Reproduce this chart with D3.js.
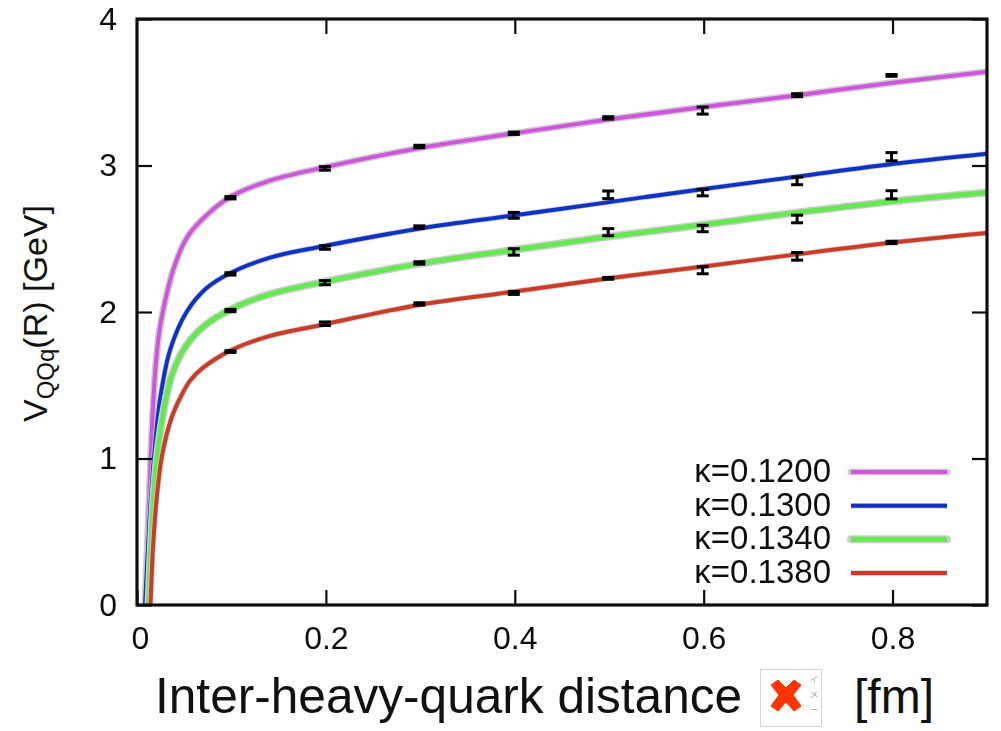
<!DOCTYPE html>
<html>
<head>
<meta charset="utf-8">
<script src="https://cdn.jsdelivr.net/npm/d3@7"></script>
<style>
  html, body { margin: 0; padding: 0; background: #fff; }
  text { font-family: "Liberation Sans", Arial, sans-serif; fill: #111; }
</style>
</head>
<body>
<div id="chart"></div>
<script>
// values
const kappaLabels = ["κ=0.1200", "κ=0.1300", "κ=0.1340", "κ=0.1380"];
const xTicks = [0, 0.2, 0.4, 0.6, 0.8];
const yTicks = [0, 1, 2, 3, 4];

// fitted curves, R [fm] and V [GeV]
const curveR1200 = [0.0085, 0.0115, 0.0148, 0.017, 0.02, 0.025, 0.04, 0.054, 0.077, 0.1, 0.14, 0.2, 0.3, 0.4, 0.5, 0.6, 0.7, 0.8, 0.9];
const curveV1200 = [0, 0.5, 1.05, 1.36, 1.65, 1.92, 2.32, 2.52, 2.68, 2.79, 2.895, 2.99, 3.12, 3.22, 3.315, 3.40, 3.48, 3.565, 3.64];
const curveR1300 = [0.0085, 0.012, 0.0148, 0.0183, 0.0243, 0.035, 0.0525, 0.074, 0.1, 0.14, 0.194, 0.3, 0.4, 0.5, 0.6, 0.7, 0.8, 0.9];
const curveV1300 = [0, 0.44, 0.74, 1.03, 1.40, 1.74, 2.0, 2.165, 2.27, 2.37, 2.445, 2.57, 2.66, 2.75, 2.84, 2.925, 3.01, 3.08];
const curveR1340 = [0.0122, 0.0155, 0.018, 0.0225, 0.031, 0.038, 0.051, 0.0685, 0.1, 0.14, 0.194, 0.3, 0.4, 0.5, 0.6, 0.7, 0.8, 0.9];
const curveV1340 = [0, 0.5, 0.78, 1.08, 1.42, 1.59, 1.76, 1.89, 2.02, 2.12, 2.20, 2.33, 2.425, 2.515, 2.595, 2.68, 2.755, 2.815];
const curveR1380 = [0.0143, 0.0172, 0.021, 0.0265, 0.0367, 0.047, 0.056, 0.07, 0.1, 0.14, 0.194, 0.3, 0.4, 0.5, 0.6, 0.7, 0.8, 0.9];
const curveV1380 = [0, 0.42, 0.74, 1.02, 1.28, 1.43, 1.53, 1.62, 1.74, 1.835, 1.91, 2.05, 2.14, 2.23, 2.31, 2.395, 2.475, 2.54];

// lattice points with error bars
const pointR = [0.1, 0.2, 0.3, 0.4, 0.5, 0.6, 0.7, 0.8];
const pointV1200 = [2.78, 2.98, 3.13, 3.22, 3.325, 3.375, 3.48, 3.615];
const pointE1200 = [0.008, 0.012, 0.008, 0.008, 0.008, 0.024, 0.01, 0.006];
const pointV1300 = [2.26, 2.44, 2.58, 2.66, 2.80, 2.815, 2.895, 3.06];
const pointE1300 = [0.008, 0.012, 0.008, 0.02, 0.026, 0.022, 0.026, 0.028];
const pointV1340 = [2.01, 2.20, 2.335, 2.41, 2.545, 2.57, 2.635, 2.80];
const pointE1340 = [0.008, 0.014, 0.008, 0.022, 0.024, 0.022, 0.026, 0.028];
const pointV1380 = [1.73, 1.92, 2.055, 2.13, 2.23, 2.285, 2.38, 2.475];
const pointE1380 = [0.006, 0.012, 0.008, 0.01, 0.006, 0.024, 0.026, 0.008];

const curveRs = [curveR1200, curveR1300, curveR1340, curveR1380];
const curveVs = [curveV1200, curveV1300, curveV1340, curveV1380];
const pointVs = [pointV1200, pointV1300, pointV1340, pointV1380];
const pointEs = [pointE1200, pointE1300, pointE1340, pointE1380];

// line colours and widths
const lineColors = ["#cf55dc", "#1033c8", "#62ea50", "#cc3a28"];
const coreWidths = [4, 4, 5, 4];
const haloWidths = [7, 5.5, 8, 5.5];

const width = 1001, height = 731;
const margin = { top: 19, right: 14, bottom: 126, left: 137 };

const svg = d3.select("#chart").append("svg")
  .attr("width", width)
  .attr("height", height)
  .style("display", "block");

// the original is a slightly soft raster image
const defs = svg.append("defs");
defs.append("filter").attr("id", "soft")
  .append("feGaussianBlur").attr("stdDeviation", 0.45);
defs.append("clipPath").attr("id", "plotClip")
  .append("rect")
    .attr("x", margin.left)
    .attr("y", margin.top)
    .attr("width", width - margin.left - margin.right)
    .attr("height", height - margin.top - margin.bottom);

const x = d3.scaleLinear().domain([0, 0.9]).range([margin.left, width - margin.right]);
const y = d3.scaleLinear().domain([0, 4]).range([height - margin.bottom, margin.top]);

const line = d3.line().x(d => x(d[0])).y(d => y(d[1])).curve(d3.curveCatmullRom.alpha(0.5));

const plot = svg.append("g").attr("filter", "url(#soft)");
const curves = plot.append("g").attr("clip-path", "url(#plotClip)");

// each curve has a grey halo under the coloured line
kappaLabels.forEach((label, i) => {
  const pts = curveRs[i].map((r, j) => [r, curveVs[i][j]]);
  curves.append("path").datum(pts)
    .attr("d", line)
    .attr("fill", "none")
    .attr("stroke", "#cfcccf")
    .attr("stroke-width", haloWidths[i]);
  curves.append("path").datum(pts)
    .attr("d", line)
    .attr("fill", "none")
    .attr("stroke", lineColors[i])
    .attr("stroke-width", coreWidths[i]);
});

// error bars
kappaLabels.forEach((label, i) => {
  const bars = plot.append("g")
    .selectAll("g")
    .data(pointR.map((r, j) => ({ r: r, v: pointVs[i][j], e: pointEs[i][j] })))
    .join("g")
      .attr("stroke", "#000")
      .attr("stroke-width", 3);
  bars.append("line")
    .attr("x1", d => x(d.r) - 1)
    .attr("x2", d => x(d.r) - 1)
    .attr("y1", d => y(d.v + d.e))
    .attr("y2", d => y(d.v - d.e));
  bars.append("line")
    .attr("x1", d => x(d.r) - 7)
    .attr("x2", d => x(d.r) + 5)
    .attr("y1", d => y(d.v + d.e))
    .attr("y2", d => y(d.v + d.e));
  bars.append("line")
    .attr("x1", d => x(d.r) - 7)
    .attr("x2", d => x(d.r) + 5)
    .attr("y1", d => y(d.v - d.e))
    .attr("y2", d => y(d.v - d.e));
});

// axes, ticks point inward and are mirrored
const tickLen = 15;
function styleAxis(g, showText) {
  g.selectAll(".domain").remove();
  g.selectAll(".tick line").attr("stroke", "#111").attr("stroke-width", 2.2);
  g.selectAll(".tick text").attr("font-size", 32).attr("fill", "#111");
  if (!showText) g.selectAll(".tick text").remove();
}
const xFmt = d => d === 0 ? "0" : d3.format(".1f")(d);

plot.append("g")
  .attr("transform", `translate(0,${y(0)})`)
  .call(d3.axisBottom(x).tickValues(xTicks).tickFormat(xFmt).tickSize(-tickLen).tickPadding(21))
  .call(g => styleAxis(g, true));
plot.append("g")
  .attr("transform", `translate(0,${y(4)})`)
  .call(d3.axisTop(x).tickValues(xTicks.slice(1)).tickSize(-tickLen))
  .call(g => styleAxis(g, false));
plot.append("g")
  .attr("transform", `translate(${x(0)},0)`)
  .call(d3.axisLeft(y).tickValues(yTicks).tickFormat(d3.format("d")).tickSize(-tickLen).tickPadding(20))
  .call(g => styleAxis(g, true));
plot.append("g")
  .attr("transform", `translate(${x(0.9)},0)`)
  .call(d3.axisRight(y).tickValues(yTicks).tickSize(-tickLen))
  .call(g => styleAxis(g, false));

// the first x label sits a little right of its tick
plot.selectAll("text").filter(function() { return this.textContent === "0" && this.getAttribute("y") > 0; })
  .attr("dx", 3);

plot.append("rect")
  .attr("x", x(0))
  .attr("y", y(4))
  .attr("width", x(0.9) - x(0))
  .attr("height", y(0) - y(4))
  .attr("fill", "none")
  .attr("stroke", "#111")
  .attr("stroke-width", 3.2);

// legend
const legendY = d3.scalePoint().domain(kappaLabels).range([472, 573]);
const legend = plot.append("g");
kappaLabels.forEach((label, i) => {
  const ly = legendY(label);
  legend.append("text")
    .attr("x", 831)
    .attr("y", ly + 10)
    .attr("text-anchor", "end")
    .attr("font-size", 33)
    .text(label);
  legend.append("line")
    .attr("x1", 851).attr("x2", 947)
    .attr("y1", ly).attr("y2", ly)
    .attr("stroke", "#cfcccf")
    .attr("stroke-linecap", i === 0 || i === 2 ? "round" : "butt")
    .attr("stroke-width", haloWidths[i]);
  legend.append("line")
    .attr("x1", 851).attr("x2", 947)
    .attr("y1", ly).attr("y2", ly)
    .attr("stroke", lineColors[i])
    .attr("stroke-width", coreWidths[i]);
});

// y axis title with subscript
const yTitle = svg.append("text")
  .attr("transform", "translate(47,422) rotate(-90)")
  .attr("font-size", 34);
yTitle.append("tspan").text("V");
yTitle.append("tspan").attr("font-size", 24).attr("dy", 7).text("QQq");
yTitle.append("tspan").attr("dy", -7).text("(R) [GeV]");

// x axis title, broken image placeholder in the middle
svg.append("text")
  .attr("x", 155)
  .attr("y", 713)
  .attr("font-size", 49.6)
  .text("Inter-heavy-quark distance");
svg.append("text")
  .attr("x", 854)
  .attr("y", 713)
  .attr("font-size", 48)
  .text("[fm]");

const icon = svg.append("g").attr("transform", "translate(760,669)");
icon.append("rect")
  .attr("x", 0.5).attr("y", 0.5)
  .attr("width", 61).attr("height", 57)
  .attr("fill", "#fff")
  .attr("stroke", "#d4d4d4");
icon.append("path")
  .attr("d", "M11 16 L18 11 L26 19 L34 11 L41 16 L33 26 L41 37 L34 42 L26 33 L18 42 L11 37 L19 26 Z")
  .attr("fill", "#ff3300")
  .attr("stroke", "#ff3300")
  .attr("stroke-width", 1);
["イ", "メ", "ー"].forEach((ch, i) => {
  icon.append("text")
    .attr("x", 54)
    .attr("y", 14 + i * 15)
    .attr("text-anchor", "middle")
    .attr("font-size", 9)
    .style("font-family", '"Noto Sans CJK JP"')
    .style("fill", "#aaa")
    .text(ch);
});
</script>
</body>
</html>
